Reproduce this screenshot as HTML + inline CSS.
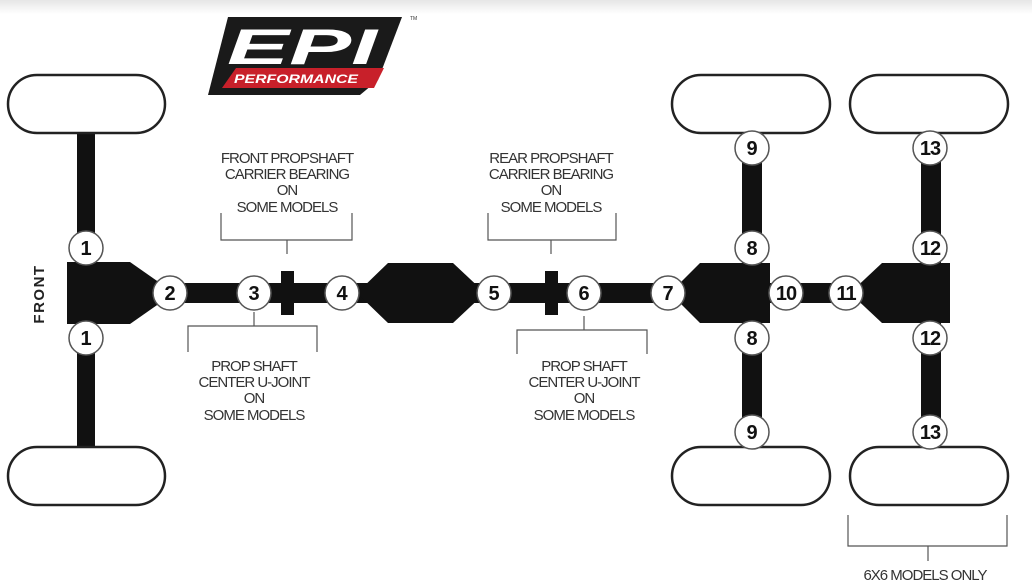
<!DOCTYPE html>
<html><head><style>
html,body{margin:0;padding:0;background:#fff;}
svg{display:block;}
text{font-family:"Liberation Sans",sans-serif;}
</style></head><body>
<svg width="1032" height="586" viewBox="0 0 1032 586" xmlns="http://www.w3.org/2000/svg">
<defs><linearGradient id="g" x1="0" y1="0" x2="0" y2="1"><stop offset="0" stop-color="#e6e6e6"/><stop offset="1" stop-color="#fff"/></linearGradient></defs>
<rect width="1032" height="586" fill="#fff"/>
<rect width="1032" height="14" fill="url(#g)"/>
<!-- logo -->
<polygon points="228,17 402,17 378,80 360,95 208,95" fill="#1a1a1a"/>
<polygon points="236,68 384,68 374,88 222,88" fill="#c8202a"/>
<text x="302" y="64" font-size="50" font-weight="bold" font-style="italic" fill="#fff" text-anchor="middle" textLength="150" lengthAdjust="spacingAndGlyphs">EPI</text>
<text x="296" y="83" font-size="12" font-weight="bold" font-style="italic" fill="#fff" text-anchor="middle" textLength="124" lengthAdjust="spacingAndGlyphs">PERFORMANCE</text>
<text x="410" y="20" font-size="5" fill="#333">TM</text>
<g fill="#111">
<rect x="77" y="130" width="18" height="320"/>
<rect x="742" y="130" width="20" height="320"/>
<rect x="921" y="130" width="20" height="320"/>
<rect x="120" y="283" width="760" height="20"/>
<polygon points="67,262 130,262 160,283 160,303 130,324 67,324"/>
<polygon points="388,263 453,263 485,293 453,323 388,323 357,293"/>
<polygon points="670,293 700,263 770,263 770,323 700,323"/>
<polygon points="850,293 882,263 950,263 950,323 882,323"/>
<rect x="281" y="271" width="13" height="44"/>
<rect x="545" y="271" width="13" height="44"/>
</g>
<g fill="#fff" stroke="#222" stroke-width="2.5">
<rect x="8" y="75" width="157" height="58" rx="29"/>
<rect x="8" y="447" width="157" height="58" rx="29"/>
<rect x="672" y="75" width="158" height="58" rx="29"/>
<rect x="672" y="447" width="158" height="58" rx="29"/>
<rect x="850" y="75" width="158" height="58" rx="29"/>
<rect x="850" y="447" width="158" height="58" rx="29"/>
</g>
<g fill="#fff" stroke="#555" stroke-width="1.5">
<circle cx="86" cy="248" r="17"/><circle cx="86" cy="338" r="17"/>
<circle cx="170" cy="293" r="17"/><circle cx="254" cy="293" r="17"/>
<circle cx="342" cy="293" r="17"/><circle cx="494" cy="293" r="17"/>
<circle cx="584" cy="293" r="17"/><circle cx="668" cy="293" r="17"/>
<circle cx="752" cy="148" r="17"/><circle cx="752" cy="248" r="17"/>
<circle cx="752" cy="338" r="17"/><circle cx="752" cy="432" r="17"/>
<circle cx="786" cy="293" r="17"/><circle cx="846" cy="293" r="17"/>
<circle cx="930" cy="148" r="17"/><circle cx="930" cy="248" r="17"/>
<circle cx="930" cy="338" r="17"/><circle cx="930" cy="432" r="17"/>
</g>
<g font-size="20" font-weight="bold" fill="#111" text-anchor="middle">
<text x="86" y="255">1</text><text x="86" y="345">1</text>
<text x="170" y="300">2</text><text x="254" y="300">3</text>
<text x="342" y="300">4</text><text x="494" y="300">5</text>
<text x="584" y="300">6</text><text x="668" y="300">7</text>
<text x="752" y="155">9</text><text x="752" y="255">8</text>
<text x="752" y="345">8</text><text x="752" y="439">9</text>
<text x="786" y="300" letter-spacing="-1">10</text><text x="846" y="300" letter-spacing="-1">11</text>
<text x="930" y="155" letter-spacing="-1">13</text><text x="930" y="255" letter-spacing="-1">12</text>
<text x="930" y="345" letter-spacing="-1">12</text><text x="930" y="439" letter-spacing="-1">13</text>
</g>
<text transform="translate(44,294) rotate(-90)" font-size="15" font-weight="bold" fill="#222" text-anchor="middle" letter-spacing="1.5">FRONT</text>
<g fill="none" stroke="#555" stroke-width="1.2">
<polyline points="221,213 221,240 352,240 352,213"/><line x1="287" y1="240" x2="287" y2="254"/>
<polyline points="488,213 488,240 616,240 616,213"/><line x1="551" y1="240" x2="551" y2="254"/>
<polyline points="188,352 188,326 317,326 317,352"/><line x1="254" y1="312" x2="254" y2="326"/>
<polyline points="517,354 517,330 647,330 647,354"/><line x1="584" y1="316" x2="584" y2="330"/>
<polyline points="848,515 848,546 1007,546 1007,515"/><line x1="928" y1="546" x2="928" y2="561"/>
</g>
<g font-size="15" fill="#333" text-anchor="middle" letter-spacing="-1">
<text x="287" y="163">FRONT PROPSHAFT</text><text x="287" y="179">CARRIER BEARING</text><text x="287" y="195">ON</text><text x="287" y="212">SOME MODELS</text>
<text x="551" y="163">REAR PROPSHAFT</text><text x="551" y="179">CARRIER BEARING</text><text x="551" y="195">ON</text><text x="551" y="212">SOME MODELS</text>
<text x="254" y="371">PROP SHAFT</text><text x="254" y="387">CENTER U-JOINT</text><text x="254" y="403">ON</text><text x="254" y="420">SOME MODELS</text>
<text x="584" y="371">PROP SHAFT</text><text x="584" y="387">CENTER U-JOINT</text><text x="584" y="403">ON</text><text x="584" y="420">SOME MODELS</text>
<text x="925" y="580">6X6 MODELS ONLY</text>
</g>
</svg>
</body></html>
